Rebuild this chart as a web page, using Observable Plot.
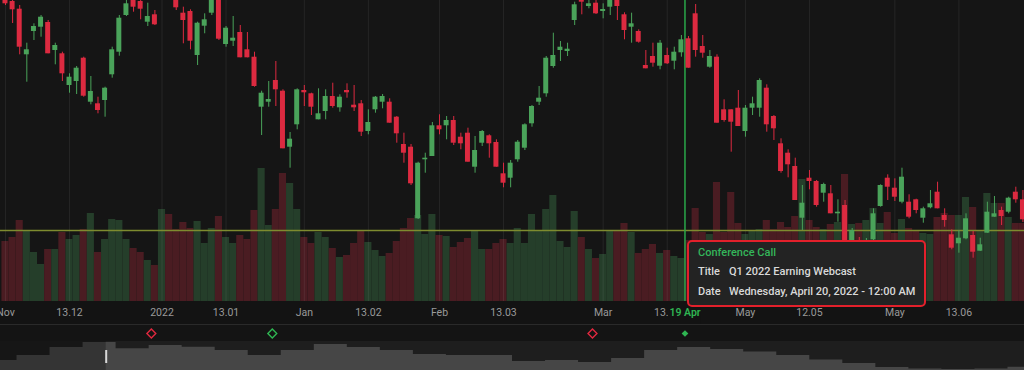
<!DOCTYPE html>
<html>
<head>
<meta charset="utf-8">
<script src="https://cdn.jsdelivr.net/npm/d3@7"></script>
<script src="https://cdn.jsdelivr.net/npm/@observablehq/plot@0.6"></script>
<style>
  html, body { margin: 0; padding: 0; background: #151515; }
  #chart { position: relative; width: 1024px; height: 370px; overflow: hidden; background: #151515; font-family: Roboto, sans-serif; }
  .layer { position: absolute; left: 0; width: 1024px; }
  .layer svg { display: block; }
  #axisLayer { top: 301px; height: 23px; background: #131313; }
  #sep { position: absolute; left: 0; top: 324px; width: 1024px; height: 1px; background: #2a2a2a; }
  #eventLayer { top: 325px; height: 16px; background: #141414; }
  #navLayer { top: 341px; height: 29px; background: #1e1e1e; }
  #tip { position: absolute; left: 687px; top: 240px; width: 239px; height: 67px; box-sizing: border-box;
         background: #232323; border: 2px solid #e3202b; border-radius: 5px; padding: 1px 0 0 9px;
         font-family: Roboto, sans-serif; font-size: 11px; font-weight: 500; color: #d9d9d9; line-height: 19.3px; }
  #tip .head { color: #34b65a; }
  #tip .lab { display: inline-block; width: 31px; }
</style>
</head>
<body>
<div id="chart">
  <div id="volLayer" class="layer" style="top:0"></div>
  <div id="candleLayer" class="layer" style="top:0"></div>
  <div id="axisLayer" class="layer"></div>
  <div id="sep"></div>
  <div id="eventLayer" class="layer"></div>
  <div id="navLayer" class="layer"></div>
  <div id="tip"></div>
</div>
<script>
// ---------- data ----------
const opens = [306,299,291.3,245.7,269,273.3,278,250,246.7,215,219,242.3,198.3,196.7,200,225.7,248.3,285,303,299,278.3,285.7,305,322,302,287.3,289,245,274.3,287.3,305,256,259.3,268,250.7,243.3,193.3,198.3,220,209.3,153.3,175.7,210,206.7,180.7,189,204,192.7,210,195.3,196.7,169,190.7,198.3,198.3,183.3,156,153.3,81.7,140.7,144,174.7,174.7,180,163.3,167.3,133.3,157.3,164.7,158,126.7,122.3,140.7,152.3,176.7,198.3,206.7,234,250,249,280,304,294,297.3,289,293.3,304,285.7,273.3,269,235,244,234.3,245,239.3,247.7,261.7,286.7,254,233.3,243.3,190.7,190.7,192.3,169,192.3,192.3,212.3,184,156.7,147.3,134,82.3,122.3,119,107.3,106.7,86.7,95,55,60,48,60.7,94,122.3,112.3,98.3,98.3,100.7,82.3,92.7,108.3,85,65.7,56.7,61.7,65,49.3,67.3,83.3,90,88.3,108.3,100.7];
const highs = [312,302,295,257.3,276.7,285,280,257.3,248.3,226.7,234,243.3,224,203.3,213.3,253.3,285,301,308,303,297.3,290,330,328,305,293.3,290.7,278.3,286.7,305,308,274,284,275,268,248.3,209.3,219,239,210.7,168,211.7,215,207.3,211.7,210.7,217.3,205.7,216.7,215,200,190.7,204,206,201.7,184,167.3,156,138.3,147.3,178,185.7,184,184,167.3,172.3,164,170,165.7,160.7,137.3,140,160,176.7,195,214,244,267.3,259,257.3,298.3,308,302,301,296.7,306,308,287.7,287.3,270.7,250,257.3,260,252.3,253.3,265,264,296,265,250,245.7,200.7,190.7,210,195,203.3,221.7,215.7,185,161.7,150.7,142.3,115,130,120,117.3,115,100.7,100,72,63,62,91.7,115.7,125.7,121.7,132.3,105.7,101.3,93.3,110,118.3,91.7,70.7,70,86.7,69,62.3,98.3,104,93.3,103.3,113.3,110];
const lows = [295,277,245.7,218.3,260,263.3,246.7,235.7,219,207.3,206,203.3,195.7,186.7,183.3,222.3,244.3,284,288.3,280.7,274,275,302,302,290,256.7,250.7,235,266.7,285,260,253.3,254,242.7,242.7,213.3,165,193.3,194,151.7,132.3,170.7,194,185,180.7,180.7,192.3,188.3,202.3,189,164,165.7,187.3,191.7,177.3,157.3,137.3,115,81,127.3,144,165.7,160.7,155,150.7,138.3,127.3,154,142.3,133.3,112.7,112.7,138.3,150,173.3,195,203.3,232.3,239,244,275,285.7,291.7,286,281.7,285,280,260.7,257.3,257.3,231.7,233.3,230.7,236,230.7,243.3,232.3,243.3,242.3,232.3,177.3,178.3,148.3,174,163.3,185,183.3,168.3,160,127.3,122.7,100,70,110.7,93.3,98.3,86.7,78.3,48,50,42,44,57,93.3,100,99,96.7,81.7,86.7,77.3,91.7,91.7,73.3,50.7,47.3,60.7,42.3,49,67.3,83.3,75,86.7,97.3,78];
const closes = [296.7,290.7,253.3,250.7,274,283.3,246.7,255,226.7,223.3,232.3,204.3,209,190,212.3,250.7,282.3,296.7,293.3,291.3,284,275.7,325,305,292.7,280,259.3,277.3,280.7,303,261.3,272.3,262.3,242.7,242.7,214,207.3,201,210.7,151.7,161.3,210.7,207.7,193.3,186.7,204,194,203.3,207.7,192.7,168.3,178,203.3,204,177.3,166.7,147.3,116.7,137.3,142.3,174.7,170.7,180,157.3,156.7,138.3,150,169,156.7,133.3,117.3,137.3,158.3,175.7,194,202.3,242.3,245,253.3,251.3,295.7,298.3,296.7,286.7,291,303,294,270,276.7,258.3,231.7,237.3,257.3,236.7,248.3,260.7,232.3,250,247.3,244,177.3,180,178.3,174,192.3,196.7,220,175.7,171.7,129,135.7,100,97.3,119,95,116,86.7,88.3,50,70,45,58,86.7,115,113.3,103.3,123.3,83.3,90,91.7,96.7,91.7,80,52.3,62.3,81.7,48.3,55.7,88.3,86.7,84,102.3,100.7,80.7];
const volumes = [6.0,6.4,8.1,7.1,4.9,3.7,5.2,5.2,6.9,6.2,6.6,7.2,8.8,4.9,6.2,8.2,8.1,6.2,5.3,4.9,4.1,3.6,9.2,8.7,7.2,7.9,7.3,8.0,5.8,7.3,8.5,6.4,5.8,6.6,6.2,9.1,13.3,7.6,9.2,12.8,11.8,9.2,6.4,5.8,6.9,6.4,5.3,4.4,4.6,5.8,7.0,5.9,5.1,4.5,4.8,6.0,7.3,8.3,8.6,6.7,8.7,6.6,6.5,5.4,5.9,6.3,7.0,5.2,5.2,5.8,6.2,5.8,7.3,5.8,8.7,7.1,9.2,10.6,6.0,5.4,9.0,6.4,5.2,4.3,4.7,7.1,7.1,7.8,6.9,4.8,5.2,5.7,4.8,5.1,4.5,4.3,6.1,9.3,6.9,6.7,11.9,6.9,10.9,7.8,6.7,7.1,7.2,8.1,7.2,7.9,7.4,8.5,12.2,8.1,7.4,7.2,7.7,7.9,12.7,7.7,7.8,8.1,9.3,7.8,8.9,6.8,8.2,7.3,7.1,6.8,6.7,8.4,8.8,8.6,8.6,10.4,9.4,7.1,10.8,9.8,9.8,8.4,7.8,7.8];

const tickIdx = [0, 9, 22, 31, 42, 51, 61, 70, 84, 93, 104, 113, 125, 134];
const tickLabels = ["Nov", "13.12", "2022", "13.01", "Jan", "13.02", "Feb", "13.03", "Mar", "13.04", "May", "12.05", "May", "13.06"];

const eventIdx = [20.5, 37.5, 82.5, 95.5];
const eventKind = ["down", "up", "down", "up"];
const eventActive = [false, false, false, true];

const crossIdx = 95.5;
const crossLabel = "19 Apr";
const levelPrice = 70;

const navValues = [10,15,23,28,21.7,25,23.3,20,15,20,26,23,20,16,15,15,9,10,8,12,20,23,21,18.5,15,10.5,7,3,1.5,1,1.5,3.3];
const navWindowStart = 3.2;

const tipHead = "Conference Call";
const tipLabels = ["Title", "Date"];
const tipValues = ["Q1 2022 Earning Webcast", "Wednesday, April 20, 2022 - 12:00 AM"];

// ---------- style ----------
const UP = "#4aa35a", DOWN = "#dc2a40";
const VUP = "#253e2a", VDOWN = "#4a1c22";
const xDomain = [-0.7, 143.22];

const candles = opens.map((o, i) => ({i, o, h: highs[i], l: lows[i], c: closes[i], v: volumes[i], up: closes[i] >= o}));

const base = {width: 1024, margin: 0, x: {domain: xDomain, axis: null}, color: {type: "identity"},
  style: {background: "transparent", fontFamily: "Roboto, sans-serif", overflow: "hidden"}};

// volume + grid
document.getElementById("volLayer").append(Plot.plot({
  ...base, height: 301,
  y: {domain: [0, 30.1], axis: null},
  marks: [
    Plot.rect(candles, {x1: d => d.i - 0.5, x2: d => d.i + 0.5, y1: d => 0, y2: "v", fill: d => d.up ? VUP : VDOWN}),
    Plot.ruleX(tickIdx, {stroke: "#ffffff", strokeOpacity: 0.07, strokeWidth: 1})
  ]
}));

// candles
document.getElementById("candleLayer").append(Plot.plot({
  ...base, height: 301,
  y: {domain: [-1, 300], axis: null},
  marks: [
    Plot.ruleY([levelPrice], {stroke: "#7e8b2f", strokeWidth: 1.5}),
    Plot.ruleX([crossIdx], {stroke: "#2aa84a", strokeWidth: 1.5}),
    Plot.ruleX(candles, {x: "i", y1: "l", y2: "h", stroke: d => d.up ? UP : DOWN, strokeWidth: 1, clip: true}),
    Plot.rect(candles, {x1: d => d.i - 0.35, x2: d => d.i + 0.35, y1: "o", y2: "c", fill: d => d.up ? UP : DOWN, clip: true})
  ]
}));

// axis labels
const ticks = tickIdx.map((i, k) => ({i, label: tickLabels[k]}));
document.getElementById("axisLayer").append(Plot.plot({
  ...base, height: 23,
  marks: [
    Plot.text(ticks, {x: "i", text: "label", fill: "#9a9a9a", fontSize: 10.5}),
    Plot.rect([crossLabel], {x1: () => crossIdx - 2.3, x2: () => crossIdx + 2.3, fill: "#131313"}),
    Plot.text([crossLabel], {x: () => crossIdx, text: d => d, fill: "#2fb552", fontSize: 10.5, fontWeight: 600})
  ]
}));

// events
const events = eventIdx.map((i, k) => ({i, color: eventKind[k] === "up" ? "#2fb552" : "#e0283f", active: eventActive[k]}));
document.getElementById("eventLayer").append(Plot.plot({
  ...base, height: 16,
  marks: [
    Plot.dot(events.filter(d => !d.active), {x: "i", symbol: "diamond2", r: 4, stroke: "color", fill: "none", strokeWidth: 1.4}),
    Plot.dot(events.filter(d => d.active), {x: "i", symbol: "diamond2", r: 3, fill: "color", stroke: "none"})
  ]
}));

// navigator
const nav = navValues.map((v, k) => ({k, v}));
document.getElementById("navLayer").append(Plot.plot({
  width: 1024, height: 29, margin: 0,
  x: {domain: [0, navValues.length - 1], axis: null},
  y: {domain: [0, 29], axis: null},
  style: {background: "transparent"},
  marks: [
    Plot.areaY(nav, {x: "k", y: "v", curve: "step", fill: "#464646"}),
    Plot.rect([0], {x1: () => 0, x2: () => navWindowStart, fill: "#000", fillOpacity: 0.25}),
    Plot.ruleX([navWindowStart], {y1: 7, y2: 20, stroke: "#d8d8d8", strokeWidth: 2})
  ]
}));

// tooltip
const tip = document.getElementById("tip");
const head = document.createElement("div");
head.className = "head"; head.textContent = tipHead; tip.append(head);
tipLabels.forEach((lab, k) => {
  const row = document.createElement("div");
  const s1 = document.createElement("span"); s1.className = "lab"; s1.textContent = lab;
  const s2 = document.createElement("span"); s2.textContent = tipValues[k];
  row.append(s1, s2); tip.append(row);
});
</script>
</body>
</html>
